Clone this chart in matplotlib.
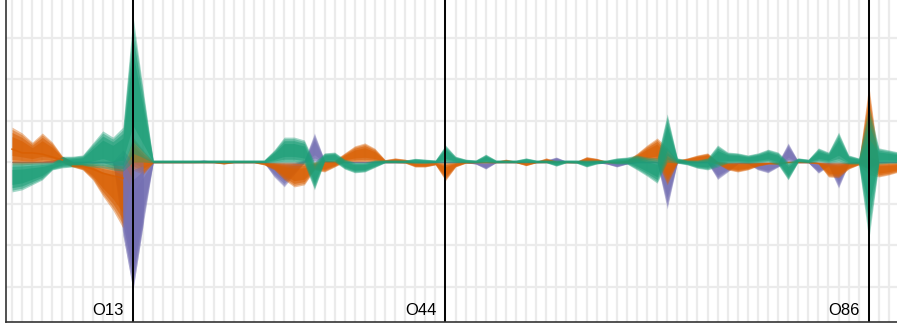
import numpy as np
import matplotlib
matplotlib.use('Agg')
from matplotlib import pyplot as plt

categories = [f'O{i}' for i in range(1, 90)]
highlight = ['O13', 'O44', 'O86']

# envelope of each group's lines, per category (upper / lower)
green_hi = [0.0, 0.0, 0.0, 0.0, 0.0, 0.14, 0.14, 0.17, 0.46, 0.75,
            0.60, 0.84, 3.52, 1.76, 0.05, 0.05, 0.05, 0.05, 0.05, 0.05,
            0.05, 0.05, 0.05, 0.05, 0.05, 0.05, 0.29, 0.60, 0.60, 0.53,
            0.0, 0.22, 0.24, 0.07, 0.0, 0.0, 0.05, 0.05, 0.05, 0.05,
            0.09, 0.07, 0.05, 0.41, 0.14, 0.07, 0.05, 0.19, 0.05, 0.05,
            0.05, 0.10, 0.05, 0.05, 0.05, 0.05, 0.05, 0.05, 0.05, 0.05,
            0.10, 0.12, 0.17, 0.12, 0.10, 1.16, 0.10, 0.05, 0.05, 0.10,
            0.41, 0.24, 0.22, 0.17, 0.22, 0.31, 0.24, 0.0, 0.10, 0.07,
            0.34, 0.24, 0.72, 0.17, 0.10, 1.37, 0.34, 0.29, 0.24]
green_lo = [-0.72, -0.67, -0.55, -0.43, -0.19, -0.14, -0.12, -0.10, -0.12, -0.14,
            -0.19, -0.22, 0.0, 0.0, -0.02, -0.02, -0.02, -0.02, -0.02, -0.02,
            -0.02, -0.02, -0.02, -0.02, -0.02, -0.02, -0.02, -0.02, -0.02, -0.05,
            -0.67, 0.0, 0.0, -0.17, -0.26, -0.24, -0.13, -0.02, -0.02, -0.02,
            -0.03, -0.03, -0.02, -0.02, -0.02, -0.02, -0.02, -0.02, -0.02, -0.02,
            -0.02, -0.02, -0.02, -0.02, -0.10, -0.02, -0.03, -0.12, -0.05, -0.02,
            -0.05, -0.05, -0.19, -0.34, -0.51, 0.0, -0.03, -0.07, -0.15, -0.19,
            -0.12, -0.03, -0.02, -0.03, -0.02, 0.0, -0.07, -0.43, 0.0, -0.02,
            0.0, -0.02, -0.02, -0.05, -0.05, -1.88, -0.05, -0.03, -0.03]

orange_hi = [0.84, 0.70, 0.48, 0.70, 0.48, 0.14, 0.0, -0.02, -0.02, -0.05,
             -0.05, -0.10, 0.60, 0.29, 0.02, 0.02, 0.02, 0.02, 0.02, 0.02,
             0.02, 0.0, 0.02, 0.02, 0.02, 0.0, 0.0, 0.0, 0.0, 0.0,
             0.0, 0.05, 0.05, 0.22, 0.39, 0.46, 0.33, 0.06, 0.10, 0.07,
             0.0, 0.0, 0.0, 0.0, 0.0, 0.02, 0.02, 0.02, 0.02, 0.07,
             0.02, 0.0, 0.02, 0.10, 0.02, 0.02, 0.02, 0.13, 0.09, 0.02,
             0.02, 0.05, 0.21, 0.41, 0.58, 0.35, 0.05, 0.10, 0.17, 0.22,
             0.02, 0.0, 0.0, 0.0, 0.0, 0.0, 0.0, 0.02, 0.02, 0.02,
             0.0, 0.0, 0.0, 0.0, 0.0, 1.86, 0.0, 0.0, 0.0]
orange_lo = [-0.07, -0.07, -0.05, -0.05, -0.03, -0.02, -0.12, -0.19, -0.43, -0.82,
             -1.16, -1.59, -0.20, -0.30, -0.02, -0.02, -0.02, -0.02, -0.02, -0.02,
             -0.02, -0.05, -0.02, -0.02, -0.02, -0.07, -0.19, -0.43, -0.60, -0.55,
             -0.19, -0.24, -0.12, 0.0, 0.0, 0.0, 0.0, -0.02, -0.02, -0.03,
             -0.12, -0.12, -0.07, -0.45, -0.12, -0.03, -0.02, -0.02, -0.02, -0.02,
             -0.02, -0.09, -0.02, -0.02, -0.02, -0.02, -0.02, 0.0, 0.0, -0.02,
             -0.02, -0.02, 0.0, 0.0, 0.0, -0.55, -0.02, 0.0, 0.0, 0.0,
             -0.05, -0.19, -0.24, -0.19, -0.10, -0.05, -0.05, -0.02, -0.02, -0.02,
             -0.05, -0.36, -0.38, -0.17, -0.07, -0.30, -0.36, -0.31, -0.24]

purple_hi = [0.02, 0.02, 0.02, 0.02, 0.05, 0.14, 0.02, 0.02, 0.02, 0.02,
             0.02, 0.29, 0.0, 0.0, 0.02, 0.02, 0.02, 0.02, 0.02, 0.05,
             0.02, 0.02, 0.02, 0.02, 0.02, 0.02, 0.0, 0.0, 0.0, 0.05,
             0.70, 0.05, 0.02, 0.02, 0.02, 0.02, 0.02, 0.02, 0.02, 0.02,
             0.02, 0.02, 0.02, 0.02, 0.02, 0.02, 0.0, 0.0, 0.02, 0.02,
             0.02, 0.02, 0.02, 0.05, 0.12, 0.02, 0.02, 0.02, 0.02, 0.0,
             0.0, 0.0, 0.02, 0.02, 0.02, 0.0, 0.02, 0.02, 0.02, 0.02,
             0.0, 0.0, 0.0, 0.0, 0.0, 0.0, 0.0, 0.46, 0.02, 0.02,
             0.0, 0.0, 0.0, 0.0, 0.02, 0.17, 0.02, 0.02, 0.02]
purple_lo = [-0.02, -0.02, -0.02, -0.02, -0.02, 0.05, -0.02, -0.02, -0.02, -0.02,
             -0.02, -1.76, -3.08, -1.52, -0.02, -0.02, -0.02, -0.02, -0.02, -0.02,
             -0.02, -0.02, -0.02, -0.02, -0.02, -0.02, -0.36, -0.60, -0.30, -0.02,
             0.0, -0.02, -0.02, -0.02, -0.02, -0.02, -0.02, -0.02, -0.02, -0.02,
             -0.02, -0.02, -0.02, -0.02, -0.02, -0.02, -0.05, -0.17, -0.02, -0.02,
             -0.02, -0.02, -0.02, -0.02, 0.0, -0.02, -0.02, -0.02, -0.02, -0.05,
             -0.12, -0.05, -0.02, -0.02, -0.02, -1.13, -0.02, -0.02, -0.02, -0.02,
             -0.42, -0.24, -0.05, -0.05, -0.19, -0.26, -0.12, 0.0, -0.02, -0.02,
             -0.27, -0.10, -0.63, -0.05, -0.02, -0.19, -0.02, -0.02, -0.02]

# a few individual orange lines that stand out on the left
orange_line_a = [0.31, 0.22, 0.22, 0.19, 0.12, 0.05]
orange_line_b = [-0.10, -0.10, -0.17, -0.27, -0.33, -0.39]

PURPLE, ORANGE, GREEN = '#7570b3', '#d95f02', '#1b9e77'


def band(ax, x, hi, lo, color):
    hi = np.asarray(hi)
    lo = np.asarray(lo)
    mid = (hi + lo) / 2
    half = (hi - lo) / 2
    # stacked translucent layers give the soft edges of many overlapping lines
    for f, a in [(1.0, 0.4), (0.88, 0.45), (0.72, 0.55), (0.5, 0.6)]:
        ax.fill_between(x, mid - f * half, mid + f * half, color=color,
                        alpha=a, linewidth=0)


fig = plt.figure(figsize=(8.97, 3.29), dpi=100)
ax = fig.add_axes([6 / 897, 7 / 329, 891 / 897, 322 / 329])

x = np.arange(len(categories))
ax.set_xticks(x)
ax.set_xticklabels([])
ax.set_yticks(range(-3, 4))
ax.set_yticklabels([])
ax.tick_params(length=0)
ax.grid(True, color='#ebebeb', linewidth=1.6)
ax.set_axisbelow(True)

band(ax, x, purple_hi, purple_lo, PURPLE)
band(ax, x, orange_hi, orange_lo, ORANGE)
# around O13 the purple lines lie over the orange ones
s = slice(11, 14)
band(ax, x[s], purple_hi[s], purple_lo[s], PURPLE)
band(ax, x, green_hi, green_lo, GREEN)

ax.plot(x[:6], orange_line_a, color=ORANGE, linewidth=1.2, alpha=0.8)
ax.plot(x[6:12], orange_line_b, color=ORANGE, linewidth=1.2, alpha=0.8)

for name in highlight:
    i = categories.index(name)
    ax.axvline(i, color='black', linewidth=1.4)
    ax.text(i - 0.9, -3.69, name, ha='right', va='baseline', fontsize=12,
            family='Liberation Sans', color='black')

ax.set_xlim(-0.6, 87.8)
ax.set_ylim(-3.855, 3.904)
for side in ['top', 'right']:
    ax.spines[side].set_visible(False)
for side in ['left', 'bottom']:
    ax.spines[side].set_color('#333333')
    ax.spines[side].set_linewidth(1.2)

fig.savefig('out.png', dpi=100)
